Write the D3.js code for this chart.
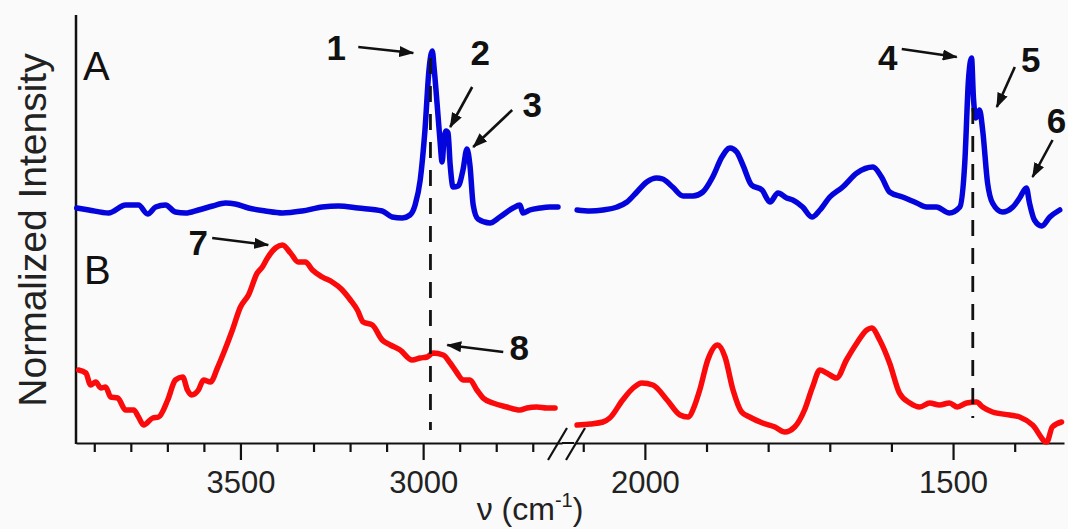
<!DOCTYPE html>
<html><head><meta charset="utf-8">
<script src="https://cdn.jsdelivr.net/npm/d3@7"></script>
<style>html,body{margin:0;padding:0;background:#fafafa;}svg{display:block;}</style>
</head><body>
<svg id="chart" width="1068" height="529"></svg>
<script>
// ---------- data (wavenumber in cm^-1, normalized intensity in a.u.) ----------
const blueLeftWn  = [3948,3915,3861,3814,3779,3754,3732,3705,3678,3650,3615,3576,3541,3514,3478,3432,3385,3331,3276,3232,3178,3112,3085,3057,3036,3022,3008,2995,2984,2975,2970,2962,2954,2948,2943,2937,2932,2926,2918,2904,2891,2880,2872,2863,2850,2817,2790,2754,2735,2727,2708,2680,2653,2631];
const blueLeftInt = [235,233,230,238,238,229,236,238,231,230,233,237,240,239,235,232,230,232,236,237,235,232,226,225,228,238,263,313,373,392,375,340,303,281,303,312,310,278,256,257,273,294,278,238,224,220,226,235,238,230,233,235,236,236];
const blueRightWn  = [2110,2089,2068,2045,2029,2013,1997,1981,1971,1955,1938,1922,1906,1890,1875,1862,1851,1841,1827,1810,1797,1784,1770,1760,1744,1729,1716,1700,1679,1656,1630,1616,1603,1582,1559,1543,1527,1506,1489,1481,1475,1470,1467,1463,1457,1452,1444,1436,1420,1403,1392,1381,1376,1368,1356,1343,1327];
const blueRightInt = [233,232,233,236,241,251,261,265,264,256,247,247,251,266,286,295,291,278,258,253,241,250,245,243,236,226,233,246,256,270,276,266,251,246,240,236,236,230,236,280,363,385,346,325,333,313,260,240,231,236,245,255,240,223,217,226,233];
const redLeftWn  = [3943,3923,3910,3896,3882,3869,3855,3836,3814,3792,3779,3765,3740,3724,3699,3678,3658,3645,3634,3615,3601,3582,3563,3546,3522,3500,3478,3454,3440,3426,3404,3385,3363,3342,3322,3303,3276,3249,3224,3199,3180,3164,3139,3112,3090,3063,3030,3008,2989,2973,2945,2926,2907,2891,2872,2853,2836,2809,2771,2735,2716,2689,2661,2639];
const redLeftInt = [73,70,58,61,55,56,46,45,33,33,26,18,25,26,43,63,66,53,48,53,63,61,75,90,113,136,148,170,176,185,195,198,190,181,181,173,166,161,154,143,133,121,118,103,98,93,83,85,86,90,88,80,70,63,63,53,45,40,36,33,35,36,35,35];
const redRightWn  = [2110,2089,2068,2057,2036,2019,2005,1987,1964,1943,1930,1919,1911,1898,1882,1870,1857,1843,1830,1809,1789,1773,1757,1741,1728,1716,1705,1689,1673,1656,1640,1632,1619,1603,1587,1570,1554,1538,1522,1506,1493,1478,1462,1452,1436,1408,1392,1371,1348,1339,1324];
const redRightInt = [18,19,21,25,43,55,60,58,43,28,26,38,53,83,98,86,53,31,26,20,16,11,16,33,56,73,70,65,83,100,113,115,103,80,50,40,36,40,38,40,36,40,41,36,31,28,26,18,1,16,21];

const majorTicksLeft  = [3500, 3000];
const minorTicksLeft  = [3900,3800,3700,3600,3400,3300,3200,3100,2900,2800,2700];
const majorTicksRight = [2000, 1500];
const minorTicksRight = [2100,1900,1800,1700,1600,1400];

const dashWn   = [2980, 1468];
const dashSide = ["left", "right"];
const dashFrom = [13, 25];
const dashTo   = [385, 335];

const annLabels = ["1","2","3","4","5","6","7","8"];
const annSide   = ["left","left","left","right","right","right","left","left"];
const annWn     = [3027,2926,2863,1494,1429,1371,3424,2934];
const annInt    = [390,316,296,386,336,266,198,98];

// ---------- layout ----------
const svg = d3.select("#chart");
const W = 1068, H = 529;
const axisY = 443, topY = 15, leftX = 76;
const font = "'Liberation Sans', Arial, Helvetica, sans-serif";
const blue = "#0404dc", red = "#fa0a0a", ink = "#111";

svg.append("rect").attr("width", W).attr("height", H).attr("fill", "#fafafa");

const xL = d3.scaleLinear().domain([3950, 2620]).range([leftX, 562]);
const xR = d3.scaleLinear().domain([2115, 1320]).range([574, 1064]);
const y  = d3.scaleLinear().domain([0, 428]).range([axisY, topY]);
const sx = s => s === "left" ? xL : xR;

// ---------- axes ----------
function drawAxis(scale, major, minor) {
  const gMin = svg.append("g").attr("transform", `translate(0,${axisY})`)
    .call(d3.axisBottom(scale).tickValues(minor).tickSize(9).tickSizeOuter(0).tickFormat(""));
  gMin.select(".domain").attr("stroke", ink).attr("stroke-width", 2);
  gMin.selectAll(".tick line").attr("stroke", ink).attr("stroke-width", 2.2);
  const gMaj = svg.append("g").attr("transform", `translate(0,${axisY})`)
    .call(d3.axisBottom(scale).tickValues(major).tickSize(17).tickSizeOuter(0).tickFormat(d3.format("d")));
  gMaj.select(".domain").remove();
  gMaj.selectAll(".tick line").attr("stroke", ink).attr("stroke-width", 2.2);
  gMaj.selectAll(".tick text").attr("y", 50).attr("dy", 0)
    .attr("font-family", font).attr("font-size", 31).attr("fill", "#222");
}
drawAxis(xL, majorTicksLeft, minorTicksLeft);
drawAxis(xR, majorTicksRight, minorTicksRight);
svg.append("line").attr("x1", xL.range()[1]).attr("x2", xR.range()[0])
  .attr("y1", axisY).attr("y2", axisY).attr("stroke", ink).attr("stroke-width", 2);
svg.append("line").attr("x1", leftX).attr("x2", leftX).attr("y1", topY).attr("y2", axisY + 1)
  .attr("stroke", ink).attr("stroke-width", 2.5);

// axis break marks
[557.5, 575.5].forEach(cx => {
  svg.append("line").attr("x1", cx - 9.5).attr("y1", axisY + 17).attr("x2", cx + 9.5).attr("y2", axisY - 15)
    .attr("stroke", ink).attr("stroke-width", 2.2);
});

// ---------- curves ----------
function drawCurve(wn, vals, scale, color) {
  const pts = wn.map((w, i) => [w, vals[i]]);
  const line = d3.line().x(d => scale(d[0])).y(d => y(d[1])).curve(d3.curveMonotoneX);
  svg.append("path").attr("d", line(pts)).attr("fill", "none").attr("stroke", color)
    .attr("stroke-width", 5.5).attr("stroke-linejoin", "round").attr("stroke-linecap", "round");
}
drawCurve(blueLeftWn, blueLeftInt, xL, blue);
drawCurve(blueRightWn, blueRightInt, xR, blue);
drawCurve(redLeftWn, redLeftInt, xL, red);
drawCurve(redRightWn, redRightInt, xR, red);

// dashed guide lines
dashWn.forEach((w, i) => {
  const X = sx(dashSide[i])(w);
  svg.append("line").attr("x1", X).attr("x2", X).attr("y1", y(dashTo[i])).attr("y2", y(dashFrom[i]))
    .attr("stroke", ink).attr("stroke-width", 2.8).attr("stroke-dasharray", "16,12");
});

// ---------- annotations ----------
const defs = svg.append("defs");
defs.append("marker").attr("id", "ah").attr("viewBox", "0 0 15 11").attr("refX", 14).attr("refY", 5.5)
  .attr("markerWidth", 15).attr("markerHeight", 11).attr("markerUnits", "userSpaceOnUse").attr("orient", "auto")
  .append("path").attr("d", "M0,0 L15,5.5 L0,11 Z").attr("fill", ink);

const tailOff  = [[-55,-6],[22,-40],[39,-37],[-55,-8],[18,-40],[20,-37],[-56,-7],[56,7]];
const labelOff = [[-77,7],[30,-62],[59,-30],[-69,13],[34,-35],[24,-44],[-70,10],[72,15]];
annLabels.forEach((lab, i) => {
  const hx = sx(annSide[i])(annWn[i]), hy = y(annInt[i]);
  svg.append("line").attr("x1", hx + tailOff[i][0]).attr("y1", hy + tailOff[i][1])
    .attr("x2", hx).attr("y2", hy).attr("stroke", ink).attr("stroke-width", 2.6).attr("marker-end", "url(#ah)");
  svg.append("text").attr("x", hx + labelOff[i][0]).attr("y", hy + labelOff[i][1])
    .attr("text-anchor", "middle").attr("font-family", font).attr("font-weight", "bold")
    .attr("font-size", 35).attr("fill", ink).text(lab);
});

// panel letters
svg.append("text").attr("x", 83).attr("y", 80).attr("font-family", font).attr("font-size", 40).attr("fill", ink).text("A");
svg.append("text").attr("x", 84).attr("y", 284).attr("font-family", font).attr("font-size", 40).attr("fill", ink).text("B");

// axis titles
svg.append("text").attr("transform", "translate(46,230) rotate(-90)").attr("text-anchor", "middle")
  .attr("font-family", font).attr("font-size", 39).attr("fill", "#222").text("Normalized Intensity");
const xt = svg.append("text").attr("x", 530).attr("y", 520).attr("text-anchor", "middle")
  .attr("font-family", font).attr("font-size", 32).attr("fill", "#222");
xt.append("tspan").text("ν (cm");
xt.append("tspan").attr("font-size", 20).attr("dy", -13).text("-1");
xt.append("tspan").attr("dy", 13).text(")");
</script>
</body></html>
